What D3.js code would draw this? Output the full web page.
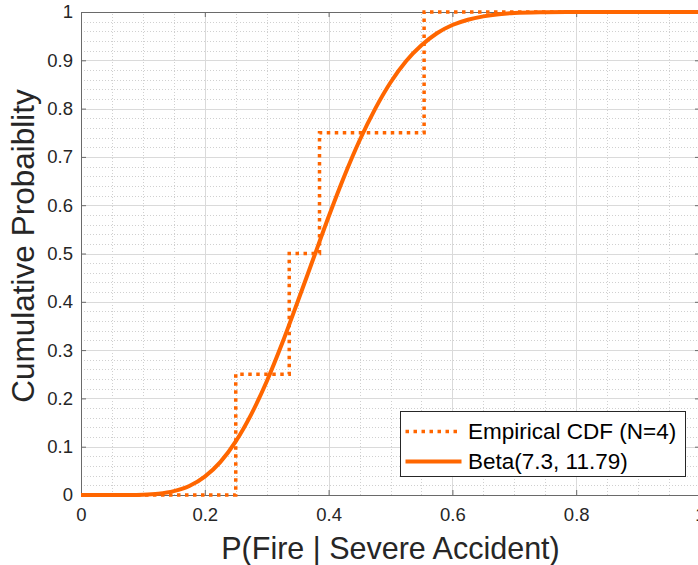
<!DOCTYPE html>
<html>
<head>
<meta charset="utf-8">
<script src="https://cdn.jsdelivr.net/npm/d3@7"></script>
<style>
  body { margin: 0; background: #fff; }
  svg { display: block; font-family: "Liberation Sans", Arial, Helvetica, sans-serif; }
  .tick text { fill: #262626; }
</style>
</head>
<body>
<div id="chart"></div>
<script>
// Empirical CDF steps (sorted sample values, N=4)
var ecdfX = [0, 0.25, 0.3364, 0.3853, 0.5543, 1];
var ecdfY = [0, 0.25, 0.5, 0.75, 1, 1];

// Beta(7.3, 11.79) fitted CDF
var betaX = [0, 0.05, 0.075, 0.1, 0.125, 0.15, 0.175, 0.2, 0.225, 0.25, 0.275, 0.3, 0.325, 0.35,
             0.375, 0.4, 0.425, 0.45, 0.475, 0.5, 0.525, 0.55, 0.575, 0.6, 0.625, 0.65,
             0.675, 0.7, 0.75, 0.8, 0.9, 1];
var betaY = [0, 0.00002, 0.00015, 0.0007, 0.0027, 0.008, 0.0186, 0.038, 0.068, 0.111, 0.167, 0.235, 0.314, 0.400,
             0.488, 0.576, 0.659, 0.734, 0.799, 0.854, 0.898, 0.931, 0.956, 0.973, 0.984, 0.991,
             0.9955, 0.998, 0.9995, 1, 1, 1];

var xTicks = [0, 0.2, 0.4, 0.6, 0.8, 1];
var xTickLabels = ["0", "0.2", "0.4", "0.6", "0.8", "1"];
var yTicks = [0, 0.1, 0.2, 0.3, 0.4, 0.5, 0.6, 0.7, 0.8, 0.9, 1];
var yTickLabels = ["0", "0.1", "0.2", "0.3", "0.4", "0.5", "0.6", "0.7", "0.8", "0.9", "1"];
var xMinor = d3.range(0, 1.0001, 0.05);
var yMinor = d3.range(0, 1.0001, 0.02);

var legendLabels = ["Empirical CDF (N=4)", "Beta(7.3, 11.79)"];
var orange = "#ff6600";

var svgWidth = 698;
var svgHeight = 565;
var margin = { top: 12, left: 81 };
var width = 619;
var height = 483;

var svg = d3.select("#chart")
    .append("svg")
    .attr("width", svgWidth)
    .attr("height", svgHeight);

var x = d3.scaleLinear().domain([0, 1]).range([margin.left, margin.left + width]);
var y = d3.scaleLinear().domain([0, 1]).range([margin.top + height, margin.top]);

// minor grid (dotted)
var grid = svg.append("g");
grid.selectAll(".vminor")
    .data(xMinor)
    .enter()
    .append("line")
    .attr("x1", d => Math.round(x(d)) + 0.5)
    .attr("x2", d => Math.round(x(d)) + 0.5)
    .attr("y1", y(0))
    .attr("y2", y(1))
    .attr("stroke", "#d0d0d0")
    .attr("stroke-dasharray", "1,2");

grid.selectAll(".hminor")
    .data(yMinor)
    .enter()
    .append("line")
    .attr("x1", x(0))
    .attr("x2", x(1))
    .attr("y1", d => Math.round(y(d)) + 0.5)
    .attr("y2", d => Math.round(y(d)) + 0.5)
    .attr("stroke", "#d0d0d0")
    .attr("stroke-dasharray", "1,2");

// major grid
grid.selectAll(".vmajor")
    .data(xTicks)
    .enter()
    .append("line")
    .attr("x1", d => Math.round(x(d)) + 0.5)
    .attr("x2", d => Math.round(x(d)) + 0.5)
    .attr("y1", y(0))
    .attr("y2", y(1))
    .attr("stroke", "#dadada");

grid.selectAll(".hmajor")
    .data(yTicks)
    .enter()
    .append("line")
    .attr("x1", x(0))
    .attr("x2", x(1))
    .attr("y1", d => Math.round(y(d)) + 0.5)
    .attr("y2", d => Math.round(y(d)) + 0.5)
    .attr("stroke", "#dadada");

// axes (ticks pointing inward, MATLAB style)
function styleAxis(g) {
    g.selectAll("path.domain").attr("stroke", "#6a6a6a");
    g.selectAll(".tick line").attr("stroke", "#6a6a6a");
    g.selectAll(".tick text").attr("font-size", "18.5px").attr("fill", "#262626");
    g.attr("font-family", null);
}

svg.append("g")
    .attr("transform", `translate(0, ${margin.top + height})`)
    .call(d3.axisBottom(x).tickValues(xTicks).tickFormat((d, i) => xTickLabels[i])
        .tickSizeInner(-5).tickSizeOuter(0).tickPadding(13))
    .call(styleAxis);

svg.append("g")
    .attr("transform", `translate(0, ${margin.top})`)
    .call(d3.axisTop(x).tickValues(xTicks).tickFormat("")
        .tickSizeInner(-5).tickSizeOuter(0))
    .call(styleAxis);

svg.append("g")
    .attr("transform", `translate(${margin.left}, 0)`)
    .call(d3.axisLeft(y).tickValues(yTicks).tickFormat((d, i) => yTickLabels[i])
        .tickSizeInner(-5).tickSizeOuter(0).tickPadding(8))
    .call(styleAxis);

svg.append("g")
    .attr("transform", `translate(${margin.left + width}, 0)`)
    .call(d3.axisRight(y).tickValues(yTicks).tickFormat("")
        .tickSizeInner(-5).tickSizeOuter(0))
    .call(styleAxis);

// data lines
var ecdfLine = d3.line()
    .x((d, i) => x(ecdfX[i]))
    .y((d, i) => y(ecdfY[i]))
    .curve(d3.curveStepAfter);

var betaLine = d3.line()
    .x((d, i) => x(betaX[i]))
    .y((d, i) => y(betaY[i]))
    .curve(d3.curveMonotoneX);

svg.append("path")
    .datum(ecdfX)
    .attr("d", ecdfLine)
    .attr("fill", "none")
    .attr("stroke", orange)
    .attr("stroke-width", 3.5)
    .attr("stroke-dasharray", "3.5,4.5");

svg.append("path")
    .datum(betaX)
    .attr("d", betaLine)
    .attr("fill", "none")
    .attr("stroke", orange)
    .attr("stroke-width", 4);

// axis labels
svg.append("text")
    .attr("x", x(0.5))
    .attr("y", 559)
    .attr("text-anchor", "middle")
    .attr("font-size", "30.5px")
    .attr("fill", "#262626")
    .text("P(Fire | Severe Accident)");

svg.append("text")
    .attr("transform", `translate(34, 246) rotate(-90)`)
    .attr("text-anchor", "middle")
    .attr("font-size", "31.5px")
    .attr("fill", "#262626")
    .text("Cumulative Probaiblity");

// legend
var legend = svg.append("g").attr("transform", "translate(400.5, 411.5)");
legend.append("rect")
    .attr("width", 285)
    .attr("height", 65)
    .attr("fill", "#fff")
    .attr("stroke", "#262626")
    .attr("stroke-width", 1);

legend.selectAll(".lline")
    .data(legendLabels)
    .enter()
    .append("line")
    .attr("x1", 5)
    .attr("x2", 61)
    .attr("y1", (d, i) => 20 + i * 30)
    .attr("y2", (d, i) => 20 + i * 30)
    .attr("stroke", orange)
    .attr("stroke-width", (d, i) => i === 0 ? 3.5 : 4)
    .attr("stroke-dasharray", (d, i) => i === 0 ? "3.5,4.5" : null);

legend.selectAll(".ltext")
    .data(legendLabels)
    .enter()
    .append("text")
    .attr("x", 67.5)
    .attr("y", (d, i) => 20 + i * 30)
    .attr("dy", "0.35em")
    .attr("font-size", "22.5px")
    .attr("fill", "#000")
    .text(d => d);
</script>
</body>
</html>
